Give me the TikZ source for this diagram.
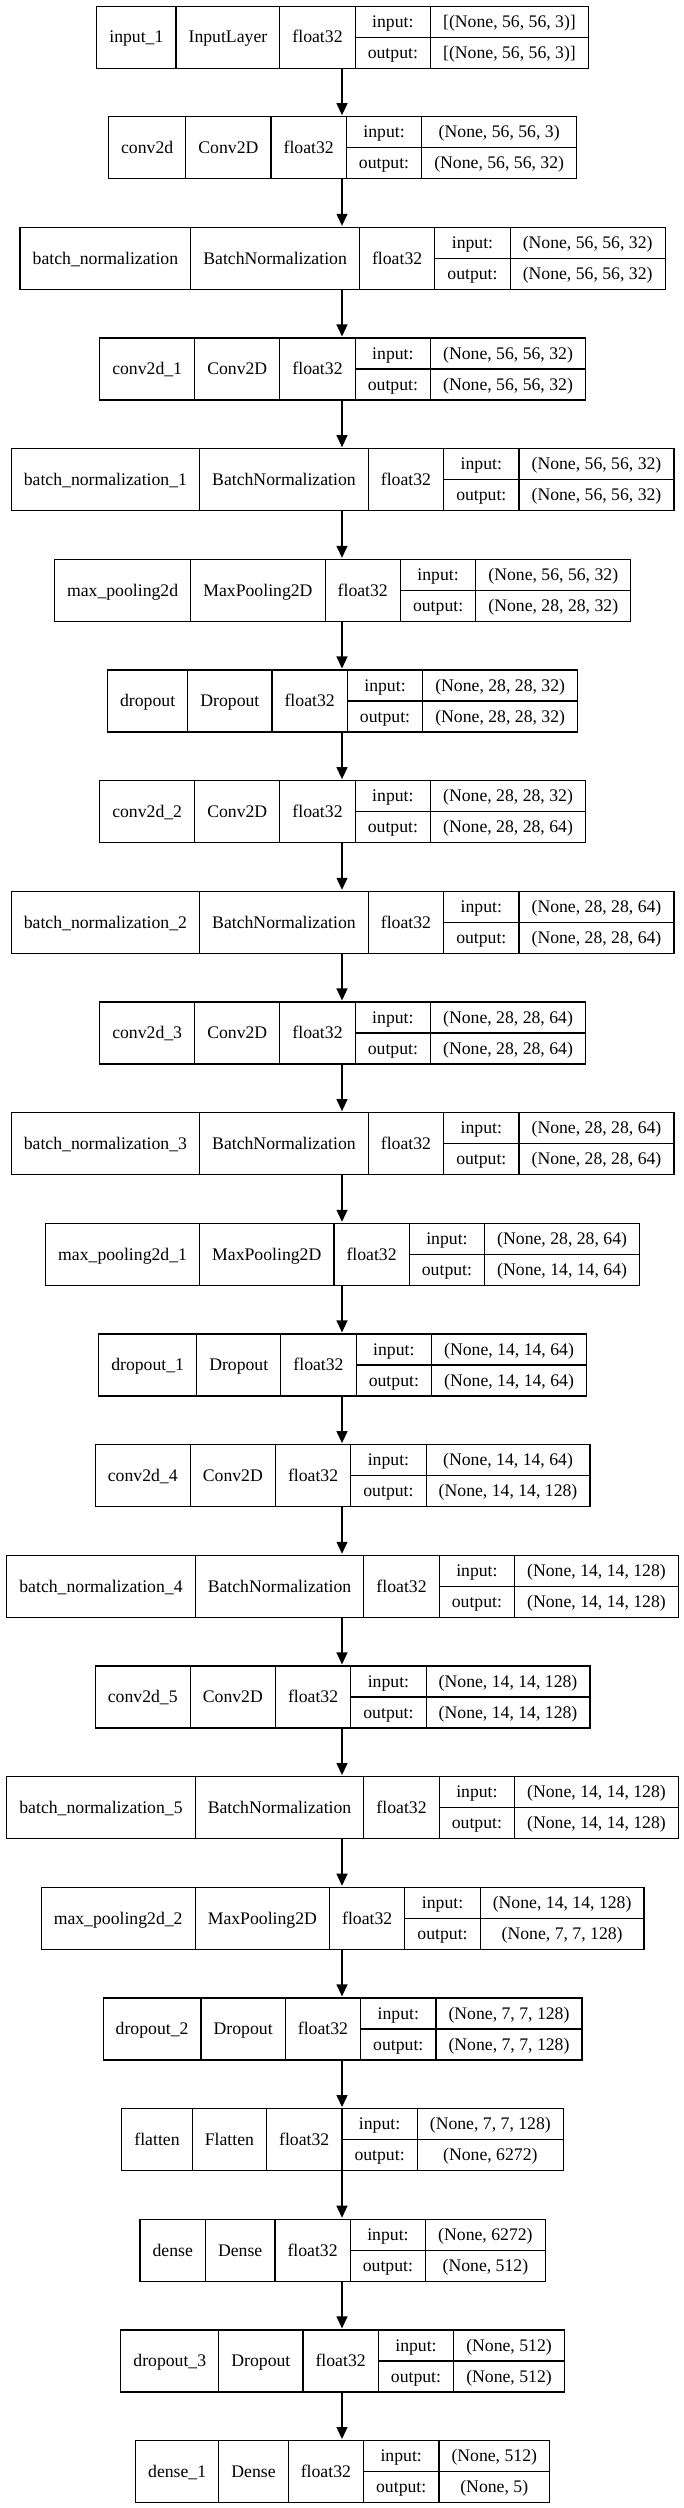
\documentclass[tikz,border=0pt]{standalone}
\usepackage{fontspec}
\setmainfont{Liberation Serif}
\usetikzlibrary{arrows.meta}
\newlength\wA \newlength\wB \newlength\wC \newlength\wD \newlength\wE \newlength\wF \newlength\wT
\newcommand\lf{\fontsize{17.7}{20}\selectfont}
\newlength\padw \setlength\padw{25.2pt}
\tikzset{
  cell/.style={draw=black, line width=1.2pt, inner sep=0pt, font=\lf, text height=13pt, text depth=1.6pt, anchor=north west},
  whole/.style={inner sep=0pt, minimum height=62pt, anchor=north},
  arr/.style={line width=1.2pt, -{Triangle[length=12pt,width=11pt]}, shorten >=1pt}
}
\newcommand\storew[3]{\pgfmathsetmacro\tmpw{#3}\expandafter\xdef\csname #1#2\endcsname{\tmpw}}
\newcommand\measure[6]{%
  \settowidth\wA{\lf #3}\addtolength\wA{\padw}%
  \settowidth\wB{\lf #4}\addtolength\wB{\padw}%
  \settowidth\wC{\lf float32}\addtolength\wC{\padw}%
  \settowidth\wD{\lf output:}\addtolength\wD{\padw}%
  \settowidth\wE{\lf #5}\settowidth\wF{\lf #6}%
  \ifdim\wF>\wE \wE=\wF\fi \addtolength\wE{\padw}%
  \wT=\wA \advance\wT\wB \advance\wT\wC \advance\wT\wD \advance\wT\wE
  \storew{#1}{A}{\wA}\storew{#1}{B}{\wB}\storew{#1}{C}{\wC}%
  \storew{#1}{D}{\wD}\storew{#1}{E}{\wE}\storew{#1}{T}{\wT}%
}
\newcommand\drawlayer[6]{%
  \edef\wa{\csname #1A\endcsname}\edef\wb{\csname #1B\endcsname}%
  \edef\wc{\csname #1C\endcsname}\edef\wdd{\csname #1D\endcsname}%
  \edef\we{\csname #1E\endcsname}\edef\wt{\csname #1T\endcsname}%
  \pgfmathsetmacro\yt{5.5+110.66*#2}%
  \pgfmathsetmacro\ym{\yt+31}%
  \pgfmathsetmacro\xa{342-0.5*\wt}%
  \pgfmathsetmacro\xb{\xa+\wa}%
  \pgfmathsetmacro\xc{\xb+\wb}%
  \pgfmathsetmacro\xd{\xc+\wc}%
  \pgfmathsetmacro\xe{\xd+\wdd}%
  \node[whole, minimum width=\wt] (#1) at (342,\yt) {};
  \node[cell, minimum width=\wa, minimum height=62] (#1-name) at (\xa,\yt) {#3};
  \node[cell, minimum width=\wb, minimum height=62] (#1-class) at (\xb,\yt) {#4};
  \node[cell, minimum width=\wc, minimum height=62] (#1-type) at (\xc,\yt) {float32};
  \node[cell, minimum width=\wdd, minimum height=31] (#1-il) at (\xd,\yt) {input:};
  \node[cell, minimum width=\wdd, minimum height=31] (#1-ol) at (\xd,\ym) {output:};
  \node[cell, minimum width=\we, minimum height=31] (#1-iv) at (\xe,\yt) {#5};
  \node[cell, minimum width=\we, minimum height=31] (#1-ov) at (\xe,\ym) {#6};
}
\newcommand\layerlist{%
\LL{L0}{0}{input\_1}{InputLayer}{[(None, 56, 56, 3)]}{[(None, 56, 56, 3)]}%
\LL{L1}{1}{conv2d}{Conv2D}{(None, 56, 56, 3)}{(None, 56, 56, 32)}%
\LL{L2}{2}{batch\_normalization}{BatchNormalization}{(None, 56, 56, 32)}{(None, 56, 56, 32)}%
\LL{L3}{3}{conv2d\_1}{Conv2D}{(None, 56, 56, 32)}{(None, 56, 56, 32)}%
\LL{L4}{4}{batch\_normalization\_1}{BatchNormalization}{(None, 56, 56, 32)}{(None, 56, 56, 32)}%
\LL{L5}{5}{max\_pooling2d}{MaxPooling2D}{(None, 56, 56, 32)}{(None, 28, 28, 32)}%
\LL{L6}{6}{dropout}{Dropout}{(None, 28, 28, 32)}{(None, 28, 28, 32)}%
\LL{L7}{7}{conv2d\_2}{Conv2D}{(None, 28, 28, 32)}{(None, 28, 28, 64)}%
\LL{L8}{8}{batch\_normalization\_2}{BatchNormalization}{(None, 28, 28, 64)}{(None, 28, 28, 64)}%
\LL{L9}{9}{conv2d\_3}{Conv2D}{(None, 28, 28, 64)}{(None, 28, 28, 64)}%
\LL{L10}{10}{batch\_normalization\_3}{BatchNormalization}{(None, 28, 28, 64)}{(None, 28, 28, 64)}%
\LL{L11}{11}{max\_pooling2d\_1}{MaxPooling2D}{(None, 28, 28, 64)}{(None, 14, 14, 64)}%
\LL{L12}{12}{dropout\_1}{Dropout}{(None, 14, 14, 64)}{(None, 14, 14, 64)}%
\LL{L13}{13}{conv2d\_4}{Conv2D}{(None, 14, 14, 64)}{(None, 14, 14, 128)}%
\LL{L14}{14}{batch\_normalization\_4}{BatchNormalization}{(None, 14, 14, 128)}{(None, 14, 14, 128)}%
\LL{L15}{15}{conv2d\_5}{Conv2D}{(None, 14, 14, 128)}{(None, 14, 14, 128)}%
\LL{L16}{16}{batch\_normalization\_5}{BatchNormalization}{(None, 14, 14, 128)}{(None, 14, 14, 128)}%
\LL{L17}{17}{max\_pooling2d\_2}{MaxPooling2D}{(None, 14, 14, 128)}{(None, 7, 7, 128)}%
\LL{L18}{18}{dropout\_2}{Dropout}{(None, 7, 7, 128)}{(None, 7, 7, 128)}%
\LL{L19}{19}{flatten}{Flatten}{(None, 7, 7, 128)}{(None, 6272)}%
\LL{L20}{20}{dense}{Dense}{(None, 6272)}{(None, 512)}%
\LL{L21}{21}{dropout\_3}{Dropout}{(None, 512)}{(None, 512)}%
\LL{L22}{22}{dense\_1}{Dense}{(None, 512)}{(None, 5)}%
}
\begin{document}
\let\LL\measure
\layerlist
\let\LL\drawlayer
\begin{tikzpicture}[x=1pt,y=-1pt]
\useasboundingbox (0,0) rectangle (684,2508);
\layerlist
\draw[arr] (L0.south) -- (L1.north);
\draw[arr] (L1.south) -- (L2.north);
\draw[arr] (L2.south) -- (L3.north);
\draw[arr] (L3.south) -- (L4.north);
\draw[arr] (L4.south) -- (L5.north);
\draw[arr] (L5.south) -- (L6.north);
\draw[arr] (L6.south) -- (L7.north);
\draw[arr] (L7.south) -- (L8.north);
\draw[arr] (L8.south) -- (L9.north);
\draw[arr] (L9.south) -- (L10.north);
\draw[arr] (L10.south) -- (L11.north);
\draw[arr] (L11.south) -- (L12.north);
\draw[arr] (L12.south) -- (L13.north);
\draw[arr] (L13.south) -- (L14.north);
\draw[arr] (L14.south) -- (L15.north);
\draw[arr] (L15.south) -- (L16.north);
\draw[arr] (L16.south) -- (L17.north);
\draw[arr] (L17.south) -- (L18.north);
\draw[arr] (L18.south) -- (L19.north);
\draw[arr] (L19.south) -- (L20.north);
\draw[arr] (L20.south) -- (L21.north);
\draw[arr] (L21.south) -- (L22.north);
\end{tikzpicture}
\end{document}
